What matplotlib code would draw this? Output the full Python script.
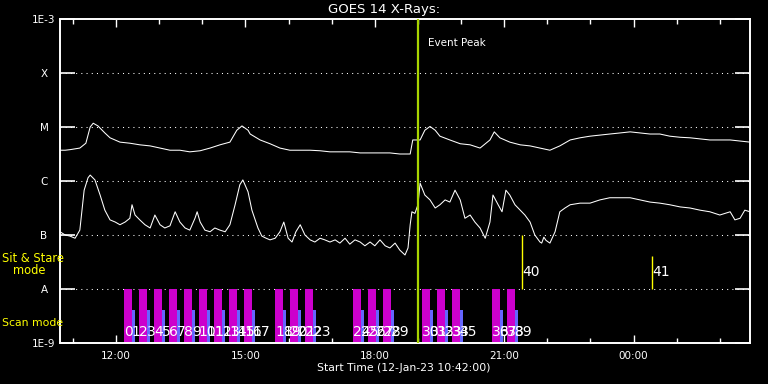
import numpy as np
import matplotlib
matplotlib.use("Agg")
import matplotlib.pyplot as plt
from matplotlib.ticker import FixedLocator, FuncFormatter, NullLocator

# GOES 14 light curves, time in hours since 12-Jan-23 00:00, log10 flux (W/m^2)
t_long = [10.70, 10.82, 10.93, 11.16, 11.30, 11.40, 11.47, 11.58, 11.74, 11.86,
          12.09, 12.32, 12.55, 12.79, 13.02, 13.25, 13.48, 13.71, 13.95, 14.18,
          14.41, 14.64, 14.80, 14.92, 15.06, 15.11, 15.34, 15.57, 15.80, 16.03,
          16.27, 16.50, 16.73, 16.96, 17.19, 17.42, 17.66, 17.89, 18.12, 18.35,
          18.58, 18.82, 18.88, 19.05, 19.16, 19.28, 19.40, 19.51, 19.74, 19.98,
          20.21, 20.44, 20.67, 20.77, 20.90, 21.13, 21.37, 21.60, 21.83, 22.06,
          22.29, 22.53, 22.76, 22.99, 23.22, 23.45, 23.69, 23.92, 24.15, 24.38,
          24.61, 24.84, 25.08, 25.31, 25.54, 25.77, 26.00, 26.24, 26.47, 26.70]
log_long = [-5.43, -5.43, -5.42, -5.39, -5.30, -5.00, -4.93, -4.98, -5.11, -5.20,
            -5.28, -5.30, -5.33, -5.35, -5.39, -5.43, -5.43, -5.46, -5.44, -5.39,
            -5.33, -5.28, -5.06, -4.98, -5.06, -5.13, -5.24, -5.31, -5.39, -5.43,
            -5.43, -5.43, -5.44, -5.46, -5.46, -5.46, -5.48, -5.48, -5.48, -5.48,
            -5.50, -5.50, -5.24, -5.24, -5.06, -4.99, -5.06, -5.17, -5.24, -5.31,
            -5.33, -5.39, -5.24, -5.09, -5.20, -5.28, -5.33, -5.35, -5.39, -5.43,
            -5.35, -5.24, -5.20, -5.17, -5.15, -5.13, -5.11, -5.09, -5.11, -5.13,
            -5.13, -5.17, -5.19, -5.20, -5.22, -5.24, -5.24, -5.24, -5.26, -5.28]

t_short = [10.70, 10.82, 10.93, 11.05, 11.16, 11.26, 11.35, 11.40, 11.51, 11.63,
           11.74, 11.86, 11.98, 12.09, 12.21, 12.32, 12.37, 12.44, 12.55, 12.67,
           12.79, 12.90, 13.02, 13.13, 13.25, 13.37, 13.48, 13.60, 13.71, 13.83,
           13.88, 13.95, 14.06, 14.18, 14.29, 14.41, 14.53, 14.64, 14.76, 14.87,
           14.94, 15.06, 15.15, 15.29, 15.38, 15.48, 15.57, 15.69, 15.80, 15.89,
           15.99, 16.08, 16.17, 16.27, 16.38, 16.50, 16.61, 16.73, 16.84, 16.96,
           17.08, 17.19, 17.31, 17.42, 17.54, 17.66, 17.77, 17.89, 18.00, 18.12,
           18.24, 18.35, 18.47, 18.58, 18.70, 18.77, 18.82, 18.86, 18.93, 19.00,
           19.05, 19.16, 19.28, 19.40, 19.51, 19.63, 19.74, 19.86, 19.98, 20.09,
           20.21, 20.32, 20.44, 20.56, 20.67, 20.74, 20.86, 20.95, 21.04, 21.13,
           21.25, 21.37, 21.48, 21.60, 21.71, 21.83, 21.87, 21.92, 21.97, 22.06,
           22.18, 22.29, 22.41, 22.53, 22.76, 22.99, 23.22, 23.45, 23.69, 23.92,
           24.15, 24.38, 24.61, 24.84, 25.08, 25.31, 25.54, 25.77, 26.00, 26.24,
           26.35, 26.47, 26.58, 26.70]
log_short = [-6.94, -7.00, -7.02, -7.06, -6.91, -6.17, -5.94, -5.89, -5.98, -6.26,
             -6.54, -6.72, -6.76, -6.81, -6.76, -6.69, -6.44, -6.63, -6.72, -6.81,
             -6.87, -6.63, -6.81, -6.87, -6.83, -6.57, -6.76, -6.87, -6.91, -6.69,
             -6.57, -6.76, -6.91, -6.94, -6.87, -6.91, -6.94, -6.81, -6.44, -6.07,
             -5.98, -6.20, -6.54, -6.87, -7.02, -7.06, -7.09, -7.06, -6.94, -6.76,
             -7.06, -7.13, -6.94, -6.81, -7.00, -7.09, -7.13, -7.06, -7.09, -7.13,
             -7.09, -7.15, -7.06, -7.17, -7.09, -7.13, -7.20, -7.13, -7.20, -7.09,
             -7.20, -7.24, -7.15, -7.28, -7.37, -7.24, -6.81, -6.57, -6.60, -6.44,
             -6.04, -6.26, -6.35, -6.50, -6.44, -6.35, -6.39, -6.17, -6.35, -6.69,
             -6.63, -6.76, -6.87, -7.06, -6.76, -6.26, -6.44, -6.57, -6.17, -6.26,
             -6.44, -6.54, -6.63, -6.76, -7.00, -7.13, -7.15, -7.04, -7.10, -7.15,
             -6.94, -6.57, -6.50, -6.44, -6.41, -6.41, -6.35, -6.31, -6.31, -6.31,
             -6.35, -6.39, -6.41, -6.44, -6.48, -6.50, -6.54, -6.57, -6.63, -6.57,
             -6.72, -6.69, -6.54, -6.57]

# scan mode rasters (start in hours), each bar holds two scan numbers
scan_start = [12.18, 12.53, 12.88, 13.23, 13.58, 13.92, 14.27, 14.62, 14.97,
              15.69, 16.03, 16.38, 17.49, 17.84, 18.19, 19.09, 19.44, 19.79,
              20.72, 21.07]
scan_len = 0.186
scan2_len = 0.07
scan2_top = 4.07e-9

# sit & stare observations
sit_time = [21.41, 24.43]
sit_top = [1e-7, 4.1e-8]
sit_label = ["40", "41"]

event_peak = 19.0

ytick_vals = [1e-9, 1e-8, 1e-7, 1e-6, 1e-5, 1e-4, 1e-3]
ytick_labels = ["1E-9", "A", "B", "C", "M", "X", "1E-3"]

plt.rcParams["font.family"] = ["DejaVu Sans"]
fig = plt.figure(figsize=(7.68, 3.84), dpi=100, facecolor="black")
ax = fig.add_axes([60 / 768, 41 / 384, 690 / 768, 324 / 384], facecolor="black")

ax.set_yscale("log")
ax.set_ylim(1e-9, 1e-3)
ax.set_xlim(10.7, 26.7)

# grid
for v in ytick_vals[1:-1]:
    ax.axhline(v, color="white", lw=0.75, linestyle=(0, (1, 4)), zorder=1)

ax.plot(t_long, 10 ** np.array(log_long), color="white", lw=0.75, zorder=3)
ax.plot(t_short, 10 ** np.array(log_short), color="white", lw=0.75, zorder=3)

# scan mode bars
ax.bar(scan_start, 1e-8 - 1e-9, bottom=1e-9, width=scan_len, align="edge",
       color="#cc00cc", zorder=2)
ax.bar(np.array(scan_start) + scan_len, scan2_top - 1e-9, bottom=1e-9,
       width=scan2_len, align="edge", color="#6666ff", zorder=2)
for i, s in enumerate(scan_start):
    for j, xs in enumerate([s, s + scan_len]):
        ax.text(xs, 0.012, str(2 * i + j), color="white", fontsize=10,
                transform=ax.get_xaxis_transform(), ha="left", va="bottom", zorder=4)

# sit & stare
for t, top, lab in zip(sit_time, sit_top, sit_label):
    ax.vlines(t, 1e-8, top, color="#ffff00", lw=1, zorder=3)
    ax.text(t, 0.219, lab, color="white", fontsize=10,
            transform=ax.get_xaxis_transform(), ha="left", va="center")

# event peak
ax.axvline(event_peak, color="#a8d400", lw=1.6, zorder=4)
ax.annotate("Event Peak", xy=(event_peak, 0.926), xycoords=("data", "axes fraction"),
            xytext=(7, 0), textcoords="offset points", color="white",
            fontsize=7.5, va="center", ha="left")

# axes styling
for sp in ax.spines.values():
    sp.set_color("white")
    sp.set_linewidth(1.4)

ax.yaxis.set_major_locator(FixedLocator(ytick_vals))
ax.yaxis.set_minor_locator(NullLocator())
ax.set_yticklabels(ytick_labels)
ax.tick_params(axis="y", which="major", direction="in", length=11, width=1.2,
               colors="white", labelsize=7.5, left=True, right=True, pad=11.5)
for lab in ax.get_yticklabels():
    lab.set_horizontalalignment("center")

ax.xaxis.set_major_locator(FixedLocator([12, 15, 18, 21, 24]))
ax.xaxis.set_minor_locator(FixedLocator(list(range(11, 27))))
ax.xaxis.set_major_formatter(FuncFormatter(lambda v, p: f"{int(round(v)) % 24:02d}:00"))
ax.tick_params(axis="x", which="major", direction="in", length=6, width=1,
               colors="white", labelsize=7.5, top=True, bottom=True, pad=6)
ax.tick_params(axis="x", which="minor", direction="in", length=3.5, width=1,
               colors="white", top=True, bottom=True)

fig.text(0.5, 1 - 9 / 384, "GOES 14 X-Rays:", color="white", fontsize=9.5,
         ha="center", va="center")
fig.text(404 / 768, 1 - 368 / 384, "Start Time (12-Jan-23 10:42:00)", color="white",
         fontsize=7.8, ha="center", va="center")
fig.text(2 / 768, 1 - 259 / 384, "Sit & Stare", color="#ffff00", fontsize=8.3,
         ha="left", va="center")
fig.text(13 / 768, 1 - 271 / 384, "mode", color="#ffff00", fontsize=8.3,
         ha="left", va="center")
fig.text(2 / 768, 1 - 323 / 384, "Scan mode", color="#ffff00", fontsize=7.8,
         ha="left", va="center")

fig.savefig("out.png", dpi=100, facecolor="black")
